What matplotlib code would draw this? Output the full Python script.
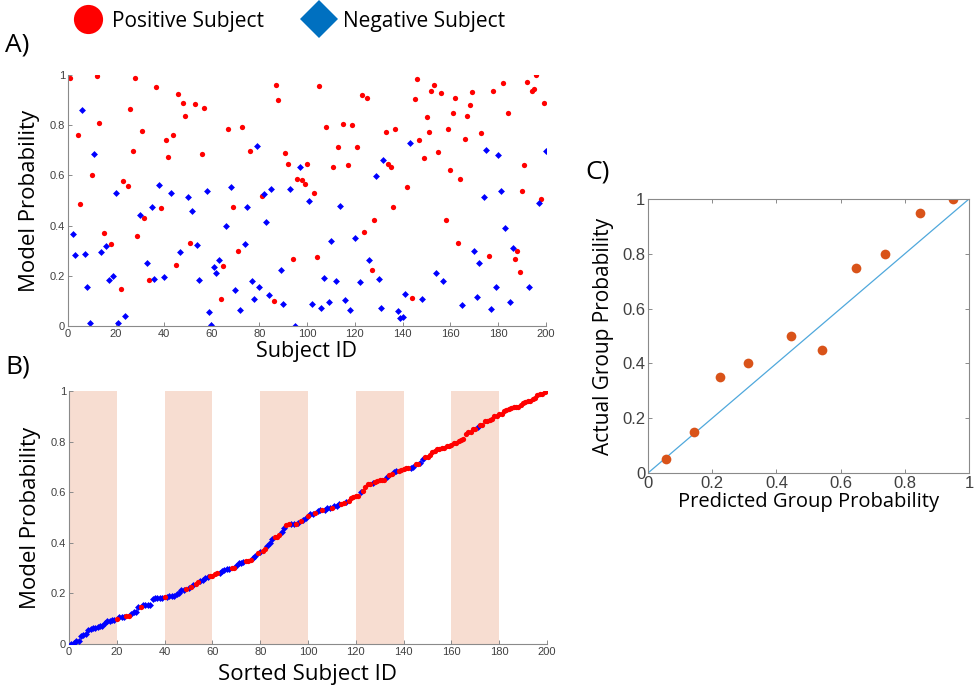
import numpy as np
import matplotlib
matplotlib.use("Agg")
import matplotlib.pyplot as plt
from matplotlib.lines import Line2D
from matplotlib.ticker import FuncFormatter

# ---------------- data ----------------
# Panel A: model probability per subject (ID 1..200) and class (1 = positive, 0 = negative)
prob = np.array([
    0.987, 0.365, 0.282, 0.760, 0.487, 0.859, 0.287, 0.155, 0.012, 0.603,
    0.685, 0.997, 0.810, 0.293, 0.369, 0.319, 0.182, 0.328, 0.200, 0.530,
    0.011, 0.146, 0.578, 0.040, 0.556, 0.866, 0.696, 0.989, 0.360, 0.441,
    0.776, 0.430, 0.252, 0.185, 0.474, 0.189, 0.954, 0.560, 0.471, 0.197,
    0.741, 0.672, 0.529, 0.762, 0.244, 0.926, 0.296, 0.887, 0.837, 0.513,
    0.329, 0.457, 0.883, 0.321, 0.185, 0.685, 0.867, 0.538, 0.054, 0.005,
    0.234, 0.212, 0.262, 0.109, 0.239, 0.398, 0.784, 0.552, 0.473, 0.145,
    0.299, 0.064, 0.793, 0.325, 0.474, 0.697, 0.181, 0.106, 0.717, 0.154,
    0.518, 0.526, 0.414, 0.125, 0.547, 0.098, 0.960, 0.902, 0.222, 0.089,
    0.689, 0.647, 0.547, 0.267, 0.001, 0.584, 0.635, 0.580, 0.567, 0.647,
    0.497, 0.089, 0.529, 0.275, 0.956, 0.072, 0.191, 0.793, 0.094, 0.340,
    0.633, 0.181, 0.712, 0.478, 0.806, 0.105, 0.641, 0.062, 0.801, 0.349,
    0.712, 0.177, 0.919, 0.374, 0.908, 0.263, 0.224, 0.424, 0.599, 0.189,
    0.072, 0.661, 0.774, 0.647, 0.633, 0.475, 0.784, 0.060, 0.033, 0.035,
    0.127, 0.552, 0.730, 0.112, 0.903, 0.983, 0.740, 0.108, 0.668, 0.831,
    0.772, 0.938, 0.960, 0.212, 0.693, 0.930, 0.181, 0.424, 0.785, 0.622,
    0.850, 0.910, 0.331, 0.586, 0.082, 0.746, 0.838, 0.882, 0.934, 0.297,
    0.117, 0.250, 0.770, 0.513, 0.701, 0.279, 0.066, 0.938, 0.155, 0.681,
    0.538, 0.967, 0.389, 0.850, 0.096, 0.309, 0.267, 0.299, 0.216, 0.539,
    0.643, 0.973, 0.155, 0.938, 0.944, 1.000, 0.491, 0.506, 0.888, 0.697,
])
label = np.array([
    1, 0, 0, 1, 1, 0, 0, 0, 0, 1,
    0, 1, 1, 0, 1, 0, 0, 1, 0, 0,
    0, 1, 1, 0, 1, 1, 1, 1, 1, 0,
    1, 1, 0, 1, 0, 0, 1, 0, 1, 0,
    1, 1, 0, 1, 1, 1, 0, 1, 1, 0,
    1, 0, 1, 0, 0, 1, 1, 0, 0, 0,
    0, 0, 0, 1, 1, 0, 1, 0, 1, 0,
    1, 0, 1, 0, 0, 1, 0, 0, 0, 0,
    1, 0, 0, 0, 0, 1, 1, 1, 0, 0,
    1, 1, 0, 1, 0, 1, 0, 1, 1, 1,
    0, 0, 1, 1, 1, 0, 0, 1, 0, 0,
    1, 0, 1, 0, 1, 0, 1, 0, 1, 0,
    1, 0, 1, 1, 1, 0, 1, 1, 0, 0,
    0, 0, 1, 1, 1, 1, 1, 0, 0, 0,
    0, 1, 0, 1, 1, 1, 1, 0, 1, 1,
    1, 1, 1, 0, 1, 1, 0, 1, 1, 1,
    1, 1, 1, 1, 0, 1, 1, 1, 1, 0,
    0, 0, 1, 0, 0, 1, 0, 1, 0, 0,
    0, 1, 0, 1, 0, 0, 1, 1, 1, 1,
    1, 1, 0, 1, 1, 1, 0, 1, 1, 0,
])
subject_id = np.arange(1, len(prob) + 1)

# Panel B: shaded groups of 20 sorted subjects
band_starts = [0, 40, 80, 120, 160]
band_width = 20

# Panel C: calibration (group means)
pred_group = [0.057, 0.144, 0.224, 0.313, 0.447, 0.543, 0.647, 0.739, 0.848, 0.951]
actual_group = [0.05, 0.15, 0.35, 0.40, 0.50, 0.45, 0.75, 0.80, 0.95, 1.00]

ticks01 = [0, 0.2, 0.4, 0.6, 0.8, 1]
ticks200 = [0, 20, 40, 60, 80, 100, 120, 140, 160, 180, 200]

# ---------------- style ----------------
RED = "#FF0000"
BLUE = "#0000FF"
LEG_BLUE = "#0070C0"
ORANGE = "#D95319"
LINE_BLUE = "#4FA8DC"
SHADE = "#F7DDD1"
TICK_COL = "#404040"
SPINE_COL = "#8a8a8a"
LABEL_FONT = ["Open Sans", "DejaVu Sans"]
TICK_FONT = ["Liberation Sans", "DejaVu Sans"]

fmt = FuncFormatter(lambda v, p: f"{v:g}")

fig = plt.figure(figsize=(9.76, 6.90), dpi=100)
W, H = 976, 690


def add_ax(l, t, r, b):
    return fig.add_axes([l / W, 1 - b / H, (r - l) / W, (b - t) / H])


def style(ax, box=False, fs=8):
    for s in ax.spines.values():
        s.set_color(SPINE_COL)
        s.set_linewidth(0.8)
    if not box:
        ax.spines["top"].set_visible(False)
        ax.spines["right"].set_visible(False)
    ax.tick_params(direction="in", length=3, width=0.7, colors=SPINE_COL,
                   labelcolor=TICK_COL, labelsize=fs, pad=2,
                   top=box, right=box)
    for lab in ax.get_xticklabels() + ax.get_yticklabels():
        lab.set_family(TICK_FONT)
    ax.xaxis.set_major_formatter(fmt)
    ax.yaxis.set_major_formatter(fmt)


# ---- Panel A ----
axA = add_ax(68, 75, 546, 326)
pos = label == 1
axA.plot(subject_id[pos], prob[pos], "o", color=RED, ms=3.8, mew=0)
axA.plot(subject_id[~pos], prob[~pos], "D", color=BLUE, ms=3.5, mew=0)
axA.set_xlim(0, 200)
axA.set_ylim(0, 1)
axA.set_xticks(ticks200)
axA.set_yticks(ticks01)
style(axA)
axA.set_xlabel("Subject ID", family=LABEL_FONT, fontsize=15.5, labelpad=1.5)
axA.set_ylabel("Model Probability", family=LABEL_FONT, fontsize=16, labelpad=7)

# ---- Panel B ----
axB = add_ax(69, 391, 547, 644)
for s0 in band_starts:
    axB.axvspan(s0, s0 + band_width, color=SHADE, lw=0, zorder=0)
order = np.argsort(prob, kind="stable")
sorted_prob = prob[order]
sorted_lab = label[order]
rank = np.arange(1, len(prob) + 1)
sp = sorted_lab == 1
axB.plot(rank[~sp], sorted_prob[~sp], "D", color=BLUE, ms=3.5, mew=0, zorder=3)
axB.plot(rank[sp], sorted_prob[sp], "o", color=RED, ms=3.8, mew=0, zorder=3)
axB.set_xlim(0, 200)
axB.set_ylim(0, 1)
axB.set_xticks(ticks200)
axB.set_yticks(ticks01)
style(axB)
axB.set_xlabel("Sorted Subject ID", family=LABEL_FONT, fontsize=16, labelpad=5)
axB.set_ylabel("Model Probability", family=LABEL_FONT, fontsize=16, labelpad=7)

# ---- Panel C ----
axC = add_ax(648, 199, 969, 473)
axC.plot([0, 1], [0, 1], color=LINE_BLUE, lw=0.9)
axC.plot(pred_group, actual_group, "o", color=ORANGE, ms=7, mew=0)
axC.set_xlim(0, 1)
axC.set_ylim(0, 1)
axC.set_xticks(ticks01)
axC.set_yticks(ticks01)
style(axC, box=True, fs=12)
axC.set_xlabel("Predicted Group Probability", family=LABEL_FONT, fontsize=14.5, labelpad=1)
axC.set_ylabel("Actual Group Probability", family=LABEL_FONT, fontsize=15, labelpad=6)

# ---- panel letters ----
fig.text(5 / W, 1 - 45 / H, "A)", fontsize=19, family=LABEL_FONT, va="center", ha="left")
fig.text(5 / W, 1 - 367 / H, "B)", fontsize=19, family=LABEL_FONT, va="center", ha="left")
fig.text(585 / W, 1 - 172 / H, "C)", fontsize=19, family=LABEL_FONT, va="center", ha="left")

# ---- legend ----
handles = [
    Line2D([], [], marker="o", color=RED, ls="", ms=21, mew=0, label="Positive Subject"),
    Line2D([], [], marker="D", color=LEG_BLUE, ls="", ms=19, mew=0, label="Negative Subject"),
]
fig.legend(handles=handles, loc="center left", bbox_to_anchor=(75.5 / W, 1 - 21 / H),
           ncol=2, frameon=False, prop={"family": LABEL_FONT, "size": 15},
           handlelength=1.2, handletextpad=0.55, columnspacing=2.05,
           borderaxespad=0, borderpad=0)

fig.savefig("out.png", dpi=100, facecolor="white")
